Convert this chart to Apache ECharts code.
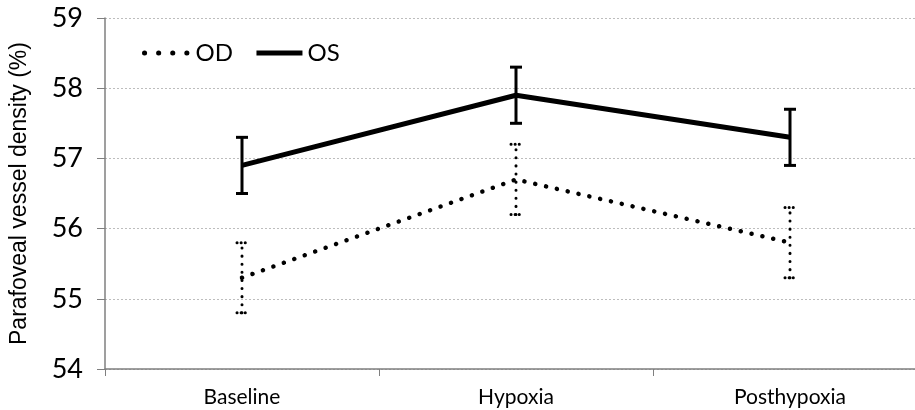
<!DOCTYPE html>
<html><head><meta charset="utf-8">
<script src="https://cdn.jsdelivr.net/npm/echarts@6/dist/echarts.min.js"></script>
<style>html,body{margin:0;padding:0;background:#fff}#c{width:915px;height:410px}</style>
</head><body><div id="c"></div>
<script>
var categories = ['Baseline', 'Hypoxia', 'Posthypoxia'];
var odMean = [55.3, 56.7, 55.8];
var odErr = [0.5, 0.5, 0.5];
var osMean = [56.9, 57.9, 57.3];
var osErr = [0.4, 0.4, 0.4];
var yTicks = [54, 55, 56, 57, 58, 59];

function errData(mean, err) {
  return mean.map(function (m, i) { return [i, m - err[i], m + err[i]]; });
}
function errRender(dotted) {
  return function (params, api) {
    var x = api.value(0);
    var lo = api.coord([x, api.value(1)]);
    var hi = api.coord([x, api.value(2)]);
    var hw = dotted ? 5 : 6;
    var style = dotted
      ? { stroke: '#000', lineWidth: 3, lineDash: [0.1, 8], lineCap: 'round' }
      : { stroke: '#000', lineWidth: 3 };
    var capStyle = dotted
      ? { stroke: '#000', lineWidth: 3, lineDash: [0.1, 4], lineCap: 'round' }
      : { stroke: '#000', lineWidth: 3 };
    return { type: 'group', children: [
      { type: 'line', shape: { x1: lo[0], y1: lo[1], x2: hi[0], y2: hi[1] }, style: style },
      { type: 'line', shape: { x1: lo[0] - hw, y1: lo[1], x2: lo[0] + hw, y2: lo[1] }, style: capStyle },
      { type: 'line', shape: { x1: hi[0] - hw, y1: hi[1], x2: hi[0] + hw, y2: hi[1] }, style: capStyle }
    ]};
  };
}

var chart = echarts.init(document.getElementById('c'), null, { renderer: 'canvas' });
chart.setOption({
  animation: false,
  grid: { left: 105, width: 822, top: 18, height: 351, outerBoundsMode: 'none', containLabel: false },
  legend: {
    left: 137, top: 36, itemWidth: 46, itemHeight: 12, itemGap: 21,
    itemStyle: { opacity: 0 },
    textStyle: { fontFamily: 'Lato', fontSize: 24, color: '#000' },
    data: [
      { name: 'OD', lineStyle: { width: 5, type: [0.1, 14], cap: 'round', color: '#000' } },
      { name: 'OS', lineStyle: { width: 5, color: '#000' } }
    ]
  },
  xAxis: {
    type: 'category', data: categories,
    axisLine: { lineStyle: { color: '#7f7f7f', width: 1.5 } },
    axisTick: { show: true, length: 7, lineStyle: { color: '#7f7f7f' } },
    axisLabel: { fontFamily: 'Lato', fontSize: 21, color: '#000', margin: 18 }
  },
  yAxis: {
    type: 'value', min: 54, max: 59, interval: 1,
    name: 'Parafoveal vessel density (%)', nameLocation: 'middle', nameGap: 74,
    nameTextStyle: { fontFamily: 'Liberation Sans', fontSize: 23, color: '#000' },
    axisLine: { show: true, lineStyle: { color: '#7f7f7f', width: 1.5 } },
    axisTick: { show: true, inside: false, length: 8, lineStyle: { color: '#7f7f7f' } },
    axisLabel: { fontFamily: 'Lato', fontSize: 27, color: '#000', margin: 22,
      formatter: function (v) { return yTicks.indexOf(v) >= 0 ? String(v) : ''; } },
    splitLine: { lineStyle: { color: '#bdbdbd', type: [2, 2], width: 1 } }
  },
  series: [
    { name: 'OD', type: 'line', data: odMean, showSymbol: false, symbol: 'none',
      lineStyle: { color: '#000', width: 4.5, type: [0.1, 11], cap: 'round' },
      itemStyle: { color: '#000' }, z: 3 },
    { name: 'OS', type: 'line', data: osMean, showSymbol: false, symbol: 'none',
      lineStyle: { color: '#000', width: 5 }, itemStyle: { color: '#000' }, z: 3 },
    { name: 'ODerr', type: 'custom', renderItem: errRender(true), data: errData(odMean, odErr), z: 4 },
    { name: 'OSerr', type: 'custom', renderItem: errRender(false), data: errData(osMean, osErr), z: 4 }
  ]
});
</script></body></html>
